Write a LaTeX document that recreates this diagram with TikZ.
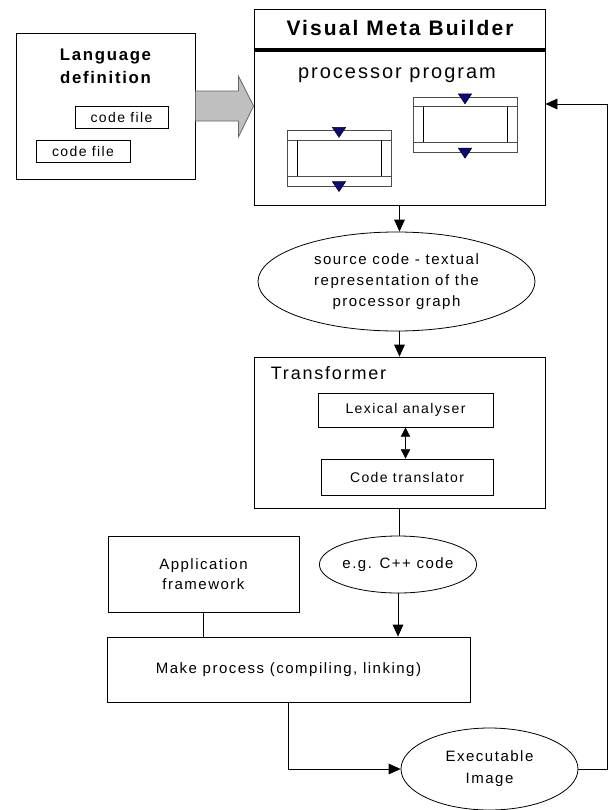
\documentclass[tikz,border=0pt]{standalone}
\usepackage{fontspec}
\setmainfont{Liberation Sans}[LetterSpace=10]
\usetikzlibrary{arrows.meta,shapes.geometric,calc}
\definecolor{procblue}{RGB}{10,10,125}

\begin{document}
\begin{tikzpicture}
        [
        x = 0.75pt, y = -0.75pt,
        line width = 0.6pt,
        >={Triangle[length=9pt, width=8pt]},
        box/.style = {
            draw, rectangle,
            inner sep = 0pt,
            align = center,
        },
        blob/.style = {
            draw, ellipse,
            inner sep = 0pt,
            align = center,
            font = \fontsize{11.25}{16}\selectfont,
        },
        small/.style = {font = \fontsize{10.5}{13}\selectfont},
        normal/.style = {font = \fontsize{11.25}{15}\selectfont},
        proc/.style = {
            draw = black!70, rectangle,
            minimum width = 78pt, minimum height = 41.6pt,
            inner sep = 0pt,
        },
        marker/.style = {fill = procblue, draw = black, line width = 0.4pt},
        ]

        \useasboundingbox (0,0) rectangle (609,810);

        % Taal
        \node[box, minimum width = 134.25pt, minimum height = 109.5pt] (lang) at (105.5,106) {};
        \node[font = \fontsize{12.6}{17.25}\selectfont\bfseries, align = center] (lang_title) at (105.5,66) {Language\\definition};
        \node[box, small, minimum width = 69.75pt, minimum height = 16.5pt] (code_file_a) at (121.5,117) {code file};
        \node[box, small, minimum width = 70.5pt, minimum height = 16.5pt] (code_file_b) at (83,151) {code file};

        % Visual Meta Builder
        \node[box, minimum width = 218.25pt, minimum height = 147pt] (vmb) at (399.5,107) {};
        \node[font = \fontsize{15.75}{18}\selectfont\bfseries] (vmb_title) at (400,28) {Visual Meta Builder};
        \draw[line width = 3pt] ([yshift=-30.75pt]vmb.north west) -- ([yshift=-30.75pt]vmb.north east);
        \node[font = \fontsize{15}{18}\selectfont] (vmb_sub) at (397,75) {processor program};

        \node[proc] (proc_left) at (339,158.5) {};
        \node[proc] (proc_right) at (465,125) {};
        \foreach \p in {proc_left, proc_right} {
            \draw[draw = black!70]
                ([yshift=-7.5pt]\p.north west) -- ([yshift=-7.5pt]\p.north east)
                ([yshift=8pt]\p.south west) -- ([yshift=8pt]\p.south east);
            \draw
                ([xshift=8pt, yshift=-7.5pt]\p.north west) -- ([xshift=8pt, yshift=8pt]\p.south west)
                ([xshift=-7.5pt, yshift=-7.5pt]\p.north east) -- ([xshift=-7.5pt, yshift=8pt]\p.south east);
            \filldraw[marker] ([xshift=-5pt, yshift=2.25pt]\p.north) -- ([xshift=5pt, yshift=2.25pt]\p.north) -- ([yshift=-5.25pt]\p.north) -- cycle;
            \filldraw[marker] ([xshift=-5pt, yshift=3.75pt]\p.south) -- ([xshift=5pt, yshift=3.75pt]\p.south) -- ([yshift=-3.75pt]\p.south) -- cycle;
        }

        % Transformer
        \node[box, minimum width = 218.25pt, minimum height = 113.25pt] (trans) at (399.5,432.5) {};
        \node[font = \fontsize{13.5}{16}\selectfont, anchor = west] (trans_title) at (266,373) {Transformer};
        \node[box, small, minimum width = 131.25pt, minimum height = 25.5pt] (lexer) at (405.5,410) {Lexical analyser};
        \node[box, small, minimum width = 129pt, minimum height = 27pt] (translator) at (407,477) {Code translator};

        % Overige
        \node[blob, minimum width = 207.75pt, minimum height = 74.25pt] (source) at (396.5,281.5) {source code - textual\\representation of the\\processor graph};
        \node[blob, minimum width = 112.5pt, minimum height = 42.75pt] (cpp) at (398,564.5) {e.g. C++ code};
        \node[box, normal, minimum width = 143.25pt, minimum height = 57pt] (app) at (203.5,574) {Application\\framework};
        \node[box, normal, minimum width = 272.25pt, minimum height = 48.75pt] (make) at (288.5,669.5) {Make process (compiling, linking)};
        \node[blob, font = \fontsize{11.25}{16.5}\selectfont, minimum width = 132.75pt, minimum height = 61.5pt] (exe) at (489.5,769) {Executable\\Image};

        % Pijlen
        \filldraw[fill = black!25, draw = black!60]
            (lang.east) ++(0,-15) -- ++(43,0) -- ++(0,-15) -- (vmb.west |- lang.east)
            -- ($(lang.east) + (43,31)$) -- ++(0,-16) -- ++(-43,0) -- cycle;

        \draw[->] (vmb.south) -- (vmb.south |- source.north);
        \draw[->] (vmb.south |- source.south) -- (trans.north);
        \draw[{Triangle[length=7pt, width=7pt]}-{Triangle[length=7pt, width=7pt]}] (lexer.south) -- (lexer.south |- translator.north);
        \draw (trans.south) -- (trans.south |- cpp.north);
        \draw[->] (cpp.south) -- (cpp.south |- make.north);
        \draw (app.south) -- (app.south |- make.north);
        \draw[->] (make.south) |- (exe.west);
        \draw[->] (exe.east) -- ++(29,0) |- ([yshift=2.25pt]vmb.east);
    \end{tikzpicture}
\end{document}
